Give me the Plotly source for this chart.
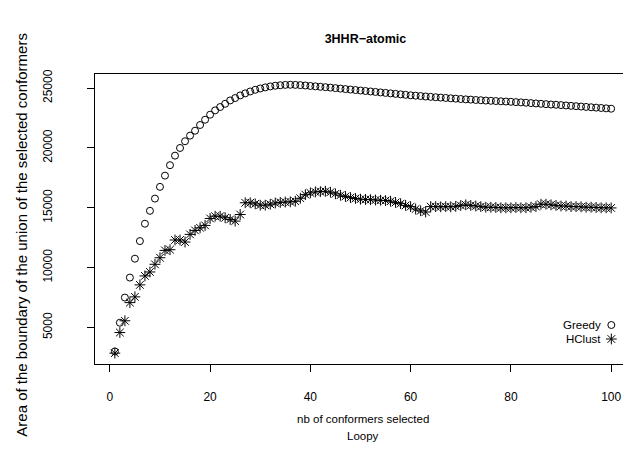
import plotly.graph_objects as go

n_selected = list(range(1, 101))

greedy = [3000, 5400, 7500, 9170, 10750, 12220, 13670, 14750, 15770, 16750,
          17690, 18560, 19360, 20000, 20560, 21030, 21440, 21920, 22360, 22780,
          23140, 23420, 23690, 23970, 24170, 24390, 24560, 24720, 24860, 24970,
          25060, 25140, 25200, 25240, 25270, 25280, 25270, 25250, 25220, 25180,
          25150, 25110, 25080, 25040, 25000, 24960, 24920, 24880, 24840, 24800,
          24760, 24720, 24680, 24640, 24600, 24560, 24520, 24480, 24440, 24400,
          24370, 24340, 24300, 24270, 24240, 24210, 24180, 24150, 24120, 24090,
          24060, 24040, 24010, 23990, 23960, 23940, 23920, 23900, 23880, 23860,
          23830, 23810, 23780, 23750, 23720, 23690, 23660, 23630, 23610, 23580,
          23550, 23520, 23490, 23460, 23430, 23400, 23370, 23340, 23310, 23280]

hclust = [2860, 4580, 5560, 7080, 7560, 8560, 9310, 9640, 10280, 10830,
          11440, 11500, 12310, 12310, 12140, 12780, 13110, 13330, 13530, 14110,
          14300, 14300, 14170, 14030, 13890, 14440, 15420, 15420, 15330, 15220,
          15220, 15300, 15400, 15450, 15480, 15500, 15550, 15800, 16100, 16250,
          16330, 16350, 16380, 16300, 16170, 16050, 15950, 15850, 15780, 15720,
          15700, 15680, 15650, 15630, 15610, 15550, 15450, 15350, 15200, 15100,
          14900, 14750, 14650, 15100, 15100, 15080, 15100, 15080, 15120, 15200,
          15250, 15200, 15150, 15100, 15050, 15050, 15030, 15000, 15000, 15000,
          15020, 15000, 15000, 15050, 15100, 15300, 15300, 15250, 15200, 15150,
          15150, 15100, 15100, 15080, 15050, 15050, 15030, 15000, 15000, 14990]

x_ticks = [0, 20, 40, 60, 80, 100]
y_ticks = [5000, 10000, 15000, 20000, 25000]
series_names = ["Greedy", "HClust"]
title_text = "3HHR\u2212atomic"
xlab_lines = ["nb of conformers selected", "Loopy"]
ylab_text = "Area of the boundary of the union of the selected conformers"

FONT = "Liberation Sans, Arial, Helvetica, sans-serif"

W, H = 631, 455
L, R, T, B = 87, 3, 66, 99
PW = W - L - R
PH = H - T - B


def py_to_paper(py):
    return (H - B - py) / PH


def px_to_paper(px):
    return (px - L) / PW


fig = go.Figure()
fig.add_trace(go.Scatter(
    x=n_selected, y=greedy, mode="markers", name="", legend="legend",
    marker=dict(symbol="circle-open", size=7, color="black",
                line=dict(width=1, color="black")),
))
fig.add_trace(go.Scatter(
    x=n_selected, y=hclust, mode="markers", name="", legend="legend2",
    marker=dict(symbol="asterisk-open", size=9, color="black",
                line=dict(width=1, color="black")),
))

axis_common = dict(
    showline=True, linecolor="black", linewidth=1, mirror=True,
    ticks="outside", ticklen=7, tickcolor="black", tickwidth=1,
    showgrid=False, zeroline=False,
    tickfont=dict(family=FONT, size=12, color="black"),
)

fig.update_layout(
    width=W, height=H,
    margin=dict(l=L, r=R, t=T, b=B),
    paper_bgcolor="white", plot_bgcolor="white",
    font=dict(family=FONT, size=12, color="black"),
    title=dict(text="<b>" + title_text + "</b>", x=0.5665, xanchor="center",
               y=1 - 31 / H, yanchor="middle",
               font=dict(family=FONT, size=12.5, color="black")),
    xaxis=dict(range=[-2.96, 103.96], tickvals=x_ticks, ticklabelstandoff=15,
               **axis_common),
    yaxis=dict(range=[1950, 26180], tickvals=y_ticks, tickangle=-90,
               tickformat="d", ticklabelstandoff=30,
               **axis_common),
    legend=dict(x=0.926, y=py_to_paper(317), xanchor="left", yanchor="middle",
                bgcolor="rgba(0,0,0,0)", borderwidth=0),
    legend2=dict(x=0.926, y=py_to_paper(331), xanchor="left", yanchor="middle",
                 bgcolor="rgba(0,0,0,0)", borderwidth=0),
    showlegend=True,
)

for name, py in zip(series_names, [317, 331]):
    fig.add_annotation(text=name, xref="paper", yref="paper",
                       x=0.948, y=py_to_paper(py), xanchor="right", yanchor="middle",
                       showarrow=False, font=dict(family=FONT, size=11.5))

for line, py in zip(xlab_lines, [411, 428]):
    fig.add_annotation(text=line, xref="paper", yref="paper",
                       x=0.5, y=py_to_paper(py), xanchor="center", yanchor="middle",
                       showarrow=False, font=dict(family=FONT, size=11.5))

fig.add_annotation(text=ylab_text, xref="paper", yref="paper",
                   x=px_to_paper(12), y=py_to_paper(227),
                   xanchor="center", yanchor="middle", textangle=-90,
                   showarrow=False, font=dict(family=FONT, size=15))

fig.write_html("out.html")
